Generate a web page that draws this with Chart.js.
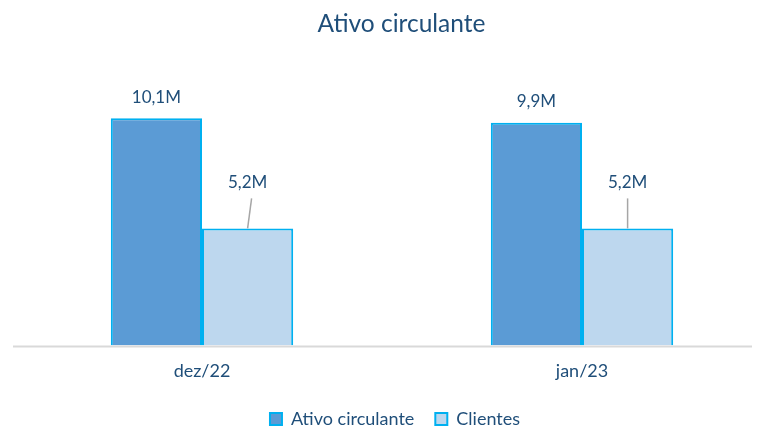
<!DOCTYPE html>
<html>
<head>
<meta charset="utf-8">
<script src="https://cdn.jsdelivr.net/npm/chart.js@4"></script>
<style>
  html, body { margin: 0; padding: 0; background: #fff; }
  #wrap { width: 764px; height: 427px; }
</style>
</head>
<body>
<div id="wrap"><canvas id="grafico"></canvas></div>
<script>
// Dados do gráfico
const categorias = ['dez/22', 'jan/23'];
const ativoCirculante = [10.1, 9.9];
const clientes = [5.2, 5.2];
const eixoMax = 12;

const corTexto = '#1F4E79';
const fonte = 'Lato, "Open Sans", sans-serif';

// formata 10.1 -> "10,1M"
function rotulo(v) {
    return v.toFixed(1).replace('.', ',') + 'M';
}

// ajustes finos de posição: eixo X um pouco mais largo, título e legenda à direita
const eixoPlugin = {
    id: 'eixo',
    afterLayout(chart) {
        const x = chart.scales.x;
        x.right += 8;
        x.width += 8;
        x.configure();
        chart.titleBlock.left += 27;
        chart.legend.left += 14;
    }
};

// Rótulos de dados (com linha guia na série Clientes)
const rotulosPlugin = {
    id: 'rotulos',
    afterDatasetsDraw(chart) {
        const ctx = chart.ctx;
        ctx.save();
        ctx.font = '17px ' + fonte;
        ctx.fillStyle = corTexto;
        ctx.textAlign = 'center';
        ctx.textBaseline = 'middle';
        chart.data.datasets.forEach((ds, i) => {
            const meta = chart.getDatasetMeta(i);
            meta.data.forEach((bar, j) => {
                const v = ds.data[j];
                if (i === 0) {
                    ctx.fillText(rotulo(v), bar.x, bar.y - 21);
                } else {
                    const dx = j === 0 ? 4 : 0;
                    ctx.fillText(rotulo(v), bar.x, bar.y - 46);
                    ctx.strokeStyle = '#A6A6A6';
                    ctx.lineWidth = 1.5;
                    ctx.beginPath();
                    ctx.moveTo(bar.x + dx, bar.y - 30);
                    ctx.lineTo(bar.x, bar.y);
                    ctx.stroke();
                }
            });
        });
        // linha do eixo X
        const a = chart.chartArea;
        ctx.strokeStyle = '#D9D9D9';
        ctx.lineWidth = 2;
        ctx.beginPath();
        ctx.moveTo(a.left + 1, a.bottom + 1);
        ctx.lineTo(a.right - 12, a.bottom + 1);
        ctx.stroke();
        ctx.restore();
    }
};

new Chart(document.getElementById('grafico'), {
    type: 'bar',
    data: {
        labels: categorias,
        datasets: [
            {
                label: 'Ativo circulante',
                data: ativoCirculante,
                backgroundColor: '#5B9BD5',
                borderColor: '#00B0F0',
                borderWidth: 2,
                borderSkipped: 'bottom'
            },
            {
                label: 'Clientes',
                data: clientes,
                backgroundColor: '#BDD7EE',
                borderColor: '#00B0F0',
                borderWidth: 2,
                borderSkipped: 'bottom'
            }
        ]
    },
    options: {
        responsive: true,
        maintainAspectRatio: false,
        animation: false,
        layout: { padding: { left: 12, right: 0, top: 0, bottom: -11 } },
        datasets: { bar: { categoryPercentage: 0.48, barPercentage: 1 } },
        plugins: {
            title: {
                display: true,
                text: 'Ativo circulante',
                color: corTexto,
                font: { family: fonte, size: 24.5, weight: 'normal' },
                padding: { top: 9, bottom: 37 }
            },
            legend: {
                position: 'bottom',
                labels: {
                    color: corTexto,
                    font: { family: fonte, size: 18 },
                    boxWidth: 12,
                    boxHeight: 12,
                    padding: 21
                }
            },
            tooltip: { enabled: false }
        },
        scales: {
            x: {
                grid: { display: false },
                border: { display: false },
                ticks: {
                    color: corTexto,
                    font: { family: fonte, size: 18 },
                    padding: 7
                }
            },
            y: {
                display: false,
                min: 0,
                max: eixoMax
            }
        }
    },
    plugins: [eixoPlugin, rotulosPlugin]
});
</script>
</body>
</html>
